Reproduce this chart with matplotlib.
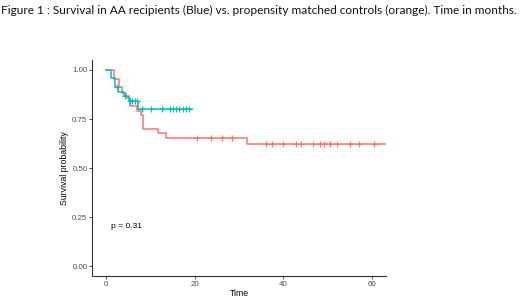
import matplotlib
matplotlib.use("Agg")
import matplotlib.pyplot as plt

# Kaplan-Meier step data (time in months, survival probability)
blue_times = [0, 1.2, 2.0, 2.8, 4.2, 5.2, 7.2, 19.4]
blue_surv = [1.0, 0.96, 0.915, 0.89, 0.87, 0.84, 0.80, 0.80]
blue_cens_t = [2.6, 4.4, 5.5, 6.0, 6.5, 7.0, 8.2, 10.3, 12.6, 14.5, 15.1, 15.8, 16.5, 17.3, 18.0, 18.8]

red_times = [0, 1.8, 3.0, 3.6, 4.6, 5.5, 7.0, 8.0, 8.4, 11.7, 13.6, 31.9, 63.0]
red_surv = [1.0, 0.955, 0.915, 0.885, 0.855, 0.815, 0.79, 0.77, 0.70, 0.68, 0.651, 0.621, 0.621]
red_cens_t = [20.6, 23.7, 26.1, 28.4, 36.1, 37.5, 40.0, 42.9, 43.9, 46.6, 48.3, 49.1,
              50.4, 52.0, 54.9, 56.9, 60.3]

x_ticks = [0, 20, 40, 60]
y_ticks = [0.0, 0.25, 0.5, 0.75, 1.0]
y_ticklabels = ["0.00", "0.25", "0.50", "0.75", "1.00"]

title = "Figure 1 : Survival in AA recipients (Blue) vs. propensity matched controls (orange). Time in months."
pval_text = "p = 0.31"

RED = "#F8766D"
BLUE = "#00BFC4"

plt.rcParams["font.family"] = ["Liberation Sans", "DejaVu Sans"]


def surv_at(times, surv, t):
    val = surv[0]
    for ti, si in zip(times, surv):
        if ti <= t:
            val = si
    return val


fig = plt.figure(figsize=(5.2, 2.99), dpi=100)
fig.text(0.002, 0.985, title, family="Lato", fontsize=8.55, va="top", ha="left", color="#111111")

ax = fig.add_axes([0.1775, 0.0769, 0.7417 - 0.1775, 0.7987 - 0.0769])

ax.step(red_times, red_surv, where="post", color=RED, lw=1.1)
ax.step(blue_times, blue_surv, where="post", color=BLUE, lw=1.1)
ax.plot(red_cens_t, [surv_at(red_times, red_surv, t) for t in red_cens_t], ls="none",
        marker="+", ms=4, mew=0.8, color=RED)
ax.plot(blue_cens_t, [surv_at(blue_times, blue_surv, t) for t in blue_cens_t], ls="none",
        marker="+", ms=4, mew=0.8, color=BLUE)

ax.text(1.2, 0.2, pval_text, fontsize=6.1, ha="left", va="center", color="black")

ax.set_xlim(-3, 63)
ax.set_ylim(-0.05, 1.05)
ax.set_xticks(x_ticks)
ax.set_yticks(y_ticks)
ax.set_yticklabels(y_ticklabels)
ax.tick_params(labelsize=5.7, labelcolor="#4D4D4D", color="#333333", length=2.0, width=0.6, pad=1.5)
for s in ["top", "right"]:
    ax.spines[s].set_visible(False)
for s in ["left", "bottom"]:
    ax.spines[s].set_color("#333333")
    ax.spines[s].set_linewidth(0.8)
ax.set_xlabel("Time", fontsize=6.3, labelpad=0.5)
ax.set_ylabel("Survival probability", fontsize=6.3, labelpad=2)

fig.savefig("out.png", dpi=100)
